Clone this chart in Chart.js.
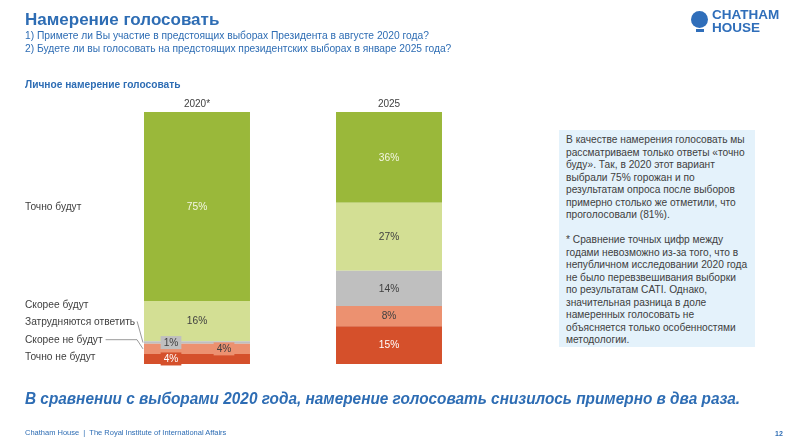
<!DOCTYPE html>
<html>
<head>
<meta charset="utf-8">
<script src="https://cdn.jsdelivr.net/npm/chart.js@4"></script>
<style>
  body { margin:0; background:#fff; font-family:"Liberation Sans", Arial, sans-serif; }
  #page { position:relative; width:800px; height:445px; overflow:hidden; }
  #chartBox { position:absolute; left:0; top:0; width:800px; height:445px; }
  .t { position:absolute; white-space:nowrap; color:#2E6DB4; }
  #title { left:25px; top:10px; font-size:17px; font-weight:bold; }
  #sub1 { left:25px; top:30px; font-size:10.25px; }
  #sub2 { left:25px; top:43px; font-size:10.25px; }
  #subTitle { left:25px; top:79px; font-size:10.2px; font-weight:bold; }
  #note { position:absolute; left:559px; top:130px; width:196px; height:217px; background:#E4F2FB;
          box-sizing:border-box; padding:4px 4px 0 7px; font-size:10.2px; line-height:12.5px; color:#404040; white-space:nowrap; }
  #headline { left:25px; top:390px; font-size:16px; font-weight:bold; font-style:italic; transform:scaleX(0.96); transform-origin:left top; }
  #footer { left:25px; top:428px; font-size:7.5px; }
  #pageNo { left:775px; top:430px; font-size:7px; font-weight:bold; }
  #logo { position:absolute; left:691px; top:8px; }
  #globe { position:absolute; left:0; top:3px; width:17px; height:17px; border-radius:50%; background:#2F6EBA; }
  #globeBase { position:absolute; left:5px; top:21px; width:8px; height:3px; background:#2F6EBA; }
  #logoText { position:absolute; left:21px; top:1px; font-size:13.5px; line-height:12.5px; font-weight:bold; color:#2F6EBA; }
</style>
</head>
<body>
<div id="page">
  <div id="chartBox"><canvas id="voteChart"></canvas></div>

  <div class="t" id="title">Намерение голосовать</div>
  <div class="t" id="sub1">1) Примете ли Вы участие в предстоящих выборах Президента в августе 2020 года?</div>
  <div class="t" id="sub2">2) Будете ли вы голосовать на предстоящих президентских выборах в январе 2025 года?</div>
  <div class="t" id="subTitle">Личное намерение голосовать</div>

  <div id="note">В качестве намерения голосовать мы<br>рассматриваем только ответы «точно<br>буду». Так, в 2020 этот вариант<br>выбрали 75% горожан и по<br>результатам опроса после выборов<br>примерно столько же отметили, что<br>проголосовали (81%).<br><br>* Сравнение точных цифр между<br>годами невозможно из-за того, что в<br>непубличном исследовании 2020 года<br>не было перевзвешивания выборки<br>по результатам CATI. Однако,<br>значительная разница в доле<br>намеренных голосовать не<br>объясняется только особенностями<br>методологии.</div>

  <div class="t" id="headline">В сравнении с выборами 2020 года, намерение голосовать снизилось примерно в два раза.</div>
  <div class="t" id="footer">Chatham House &nbsp;|&nbsp; The Royal Institute of International Affairs</div>
  <div class="t" id="pageNo">12</div>

  <div id="logo">
    <div id="globe"></div><div id="globeBase"></div>
    <div id="logoText">CHATHAM<br>HOUSE</div>
  </div>
</div>

<script>
// data
const years = ["2020*", "2025"];
const answers = ["Точно не будут", "Скорее не будут", "Затрудняются ответить", "Скорее будут", "Точно будут"];
const definitelyNot = [4, 15];
const probablyNot = [4, 8];
const hardToSay = [1, 14];
const probablyYes = [16, 27];
const definitelyYes = [75, 36];

const colors = ["#D5502B", "#EC9170", "#BFBFBF", "#D3DF94", "#9AB83A"];
const textColors = ["#FFFFFF", "#404040", "#404040", "#404040", "#F4F7E4"];
// small 2020 labels get pushed to the side of the bar
const smallShift = [-26, 27, -26, 0, 0];

const series = [definitelyNot, probablyNot, hardToSay, probablyYes, definitelyYes];

// labels inside bars
const valueLabels = {
    id: "valueLabels",
    afterDatasetsDraw(chart){
        const ctx = chart.ctx;
        ctx.save();
        ctx.font = "10.2px 'Liberation Sans', Arial, sans-serif";
        ctx.textAlign = "center";
        ctx.textBaseline = "middle";
        chart.data.datasets.forEach(function(ds, i){
            chart.getDatasetMeta(i).data.forEach(function(bar, j){
                const v = ds.data[j];
                const txt = v + "%";
                let x = bar.x;
                const y = (bar.y + bar.base) / 2;
                if (v < 5){
                    x += smallShift[i];
                    const w = ctx.measureText(txt).width + 6;
                    ctx.fillStyle = colors[i];
                    ctx.fillRect(x - w / 2, y - 6.5, w, 13);
                }
                ctx.fillStyle = textColors[i];
                ctx.fillText(txt, x, y + 0.5);
            });
        });
        ctx.restore();
    }
};

// legend text on the left with leader lines
const sideLabels = {
    id: "sideLabels",
    afterDatasetsDraw(chart){
        const ctx = chart.ctx;
        const area = chart.chartArea;
        ctx.save();
        ctx.font = "10.2px 'Liberation Sans', Arial, sans-serif";
        ctx.fillStyle = "#404040";
        ctx.textAlign = "left";
        ctx.textBaseline = "middle";
        const tx = 25;
        const step = 17.3;
        const bottomY = area.bottom - 7;
        answers.forEach(function(name, i){
            let y;
            if (i === 4){
                const bar = chart.getDatasetMeta(i).data[0];
                y = (bar.y + bar.base) / 2 + 1;
            } else {
                y = bottomY - i * step;
            }
            ctx.fillText(name, tx, y);
        });
        const bar0 = chart.getDatasetMeta(0).data[0];
        const left = bar0.x - bar0.width / 2;
        ctx.strokeStyle = "#7F7F7F";
        ctx.lineWidth = 0.8;
        // Затрудняются ответить
        const hs = chart.getDatasetMeta(2).data[0];
        const yHard = bottomY - 2 * step;
        const wHard = ctx.measureText(answers[2]).width;
        ctx.beginPath();
        ctx.moveTo(tx + wHard + 2, yHard - 1);
        ctx.lineTo(left - 1, (hs.y + hs.base) / 2);
        ctx.stroke();
        // Скорее не будут
        const pn = chart.getDatasetMeta(1).data[0];
        const yPn = bottomY - step;
        const wPn = ctx.measureText(answers[1]).width;
        ctx.beginPath();
        ctx.moveTo(tx + wPn + 3, yPn);
        ctx.lineTo(left - 7, yPn);
        ctx.lineTo(left - 1, (pn.y + pn.base) / 2);
        ctx.stroke();
        ctx.restore();
    }
};

new Chart(document.getElementById("voteChart"), {
    type: "bar",
    data: {
        labels: years,
        datasets: series.map(function(d, i){
            return {
                label: answers[i],
                data: d,
                backgroundColor: colors[i],
                borderWidth: 0,
                barPercentage: 1,
                categoryPercentage: 0.552
            };
        })
    },
    options: {
        responsive: true,
        maintainAspectRatio: false,
        animation: false,
        layout: { padding: { left: 101, right: 315, top: 96, bottom: 81 } },
        plugins: {
            legend: { display: false },
            tooltip: { enabled: false }
        },
        scales: {
            x: {
                stacked: true,
                position: "top",
                grid: { display: false, drawTicks: false },
                border: { display: false },
                ticks: {
                    color: "#404040",
                    padding: 2,
                    font: { size: 10, family: "'Liberation Sans', Arial, sans-serif" }
                }
            },
            y: {
                stacked: true,
                display: false,
                min: 0,
                max: 100
            }
        }
    },
    plugins: [valueLabels, sideLabels]
});
</script>
</body>
</html>
